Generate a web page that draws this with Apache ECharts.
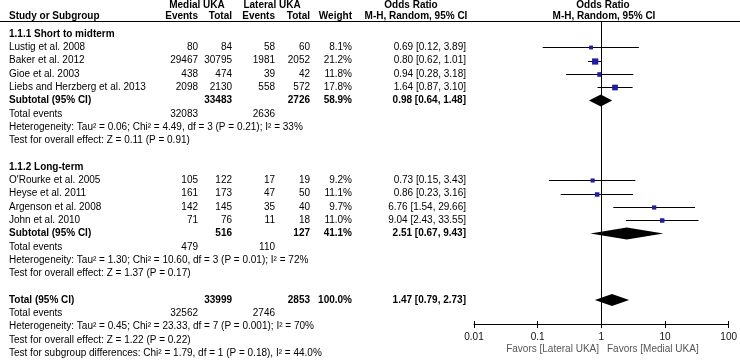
<!DOCTYPE html>
<html>
<head>
<meta charset="utf-8">
<script src="https://cdn.jsdelivr.net/npm/echarts@6/dist/echarts.min.js"></script>
<style>
  html, body { margin: 0; padding: 0; background: #fff; }
  #forest { width: 740px; height: 362px; }
</style>
</head>
<body>
<div id="forest"></div>
<script>
// ---- data ----
var studies = ['Lustig et al. 2008', 'Baker et al. 2012', 'Gioe et al. 2003', 'Liebs and Herzberg et al. 2013',
               "O'Rourke et al. 2005", 'Heyse et al. 2011', 'Argenson et al. 2008', 'John et al. 2010'];
var studyGroup = [0, 0, 0, 0, 1, 1, 1, 1];
var medialEvents = [80, 29467, 438, 2098, 105, 161, 142, 71];
var medialTotal = [84, 30795, 474, 2130, 122, 173, 145, 76];
var lateralEvents = [58, 1981, 39, 558, 17, 47, 35, 11];
var lateralTotal = [60, 2052, 42, 572, 19, 50, 40, 18];
var weights = [8.1, 21.2, 11.8, 17.8, 9.2, 11.1, 9.7, 11.0];
var oddsRatio = [0.69, 0.80, 0.94, 1.64, 0.73, 0.86, 6.76, 9.04];
var ciLow = [0.12, 0.62, 0.28, 0.87, 0.15, 0.23, 1.54, 2.43];
var ciHigh = [3.89, 1.01, 3.18, 3.10, 3.43, 3.16, 29.66, 33.55];

var groupNames = ['1.1.1 Short to midterm', '1.1.2 Long-term'];
var subMedialTotal = [33483, 516];
var subLateralTotal = [2726, 127];
var subWeight = [58.9, 41.1];
var subOR = [0.98, 2.51];
var subLow = [0.64, 0.67];
var subHigh = [1.48, 9.43];
var subMedialEvents = [32083, 479];
var subLateralEvents = [2636, 110];
var subHeterogeneity = ['Heterogeneity: Tau\u00b2 = 0.06; Chi\u00b2 = 4.49, df = 3 (P = 0.21); I\u00b2 = 33%',
                        'Heterogeneity: Tau\u00b2 = 1.30; Chi\u00b2 = 10.60, df = 3 (P = 0.01); I\u00b2 = 72%'];
var subEffect = ['Test for overall effect: Z = 0.11 (P = 0.91)',
                 'Test for overall effect: Z = 1.37 (P = 0.17)'];

var totalMedial = 33999, totalLateral = 2853, totalWeight = 100.0;
var totalOR = 1.47, totalLow = 0.79, totalHigh = 2.73;
var totalMedialEvents = 32562, totalLateralEvents = 2746;
var totalHeterogeneity = 'Heterogeneity: Tau\u00b2 = 0.45; Chi\u00b2 = 23.33, df = 7 (P = 0.001); I\u00b2 = 70%';
var totalEffect = 'Test for overall effect: Z = 1.22 (P = 0.22)';
var subgroupTest = 'Test for subgroup differences: Chi\u00b2 = 1.79, df = 1 (P = 0.18), I\u00b2 = 44.0%';

var axisTicks = [0.01, 0.1, 1, 10, 100];

// ---- layout ----
var FAMILY = '"Liberation Sans", Arial, sans-serif';
var FONT = '10px ' + FAMILY;
var BOLD = 'bold 10px ' + FAMILY;
var COL = { label: 9, medEv: 198, medTot: 232, latEv: 275, latTot: 310, weight: 352, or: 466 };

function orText(v, lo, hi) {
  return v.toFixed(2) + ' [' + lo.toFixed(2) + ', ' + hi.toFixed(2) + ']';
}

var textItems = [];
var boxes = [];
var diamonds = [];
function addText(x, row, text, align, bold) {
  textItems.push({ x: x, row: row, text: String(text), align: align, bold: !!bold });
}

var r = 0;
groupNames.forEach(function (name, g) {
  addText(COL.label, r, name, 'left', true); r++;
  studies.forEach(function (s, i) {
    if (studyGroup[i] !== g) return;
    addText(COL.label, r, s, 'left');
    addText(COL.medEv, r, medialEvents[i], 'right');
    addText(COL.medTot, r, medialTotal[i], 'right');
    addText(COL.latEv, r, lateralEvents[i], 'right');
    addText(COL.latTot, r, lateralTotal[i], 'right');
    addText(COL.weight, r, weights[i].toFixed(1) + '%', 'right');
    addText(COL.or, r, orText(oddsRatio[i], ciLow[i], ciHigh[i]), 'right');
    boxes.push([oddsRatio[i], ciLow[i], ciHigh[i], r, weights[i]]);
    r++;
  });
  addText(COL.label, r, 'Subtotal (95% CI)', 'left', true);
  addText(COL.medTot, r, subMedialTotal[g], 'right', true);
  addText(COL.latTot, r, subLateralTotal[g], 'right', true);
  addText(COL.weight, r, subWeight[g].toFixed(1) + '%', 'right', true);
  addText(COL.or, r, orText(subOR[g], subLow[g], subHigh[g]), 'right', true);
  diamonds.push([subOR[g], subLow[g], subHigh[g], r]);
  r++;
  addText(COL.label, r, 'Total events', 'left');
  addText(COL.medEv, r, subMedialEvents[g], 'right');
  addText(COL.latEv, r, subLateralEvents[g], 'right');
  r++;
  addText(COL.label, r, subHeterogeneity[g], 'left'); r++;
  addText(COL.label, r, subEffect[g], 'left'); r++;
  r++;
});
addText(COL.label, r, 'Total (95% CI)', 'left', true);
addText(COL.medTot, r, totalMedial, 'right', true);
addText(COL.latTot, r, totalLateral, 'right', true);
addText(COL.weight, r, totalWeight.toFixed(1) + '%', 'right', true);
addText(COL.or, r, orText(totalOR, totalLow, totalHigh), 'right', true);
diamonds.push([totalOR, totalLow, totalHigh, r]);
r++;
addText(COL.label, r, 'Total events', 'left');
addText(COL.medEv, r, totalMedialEvents, 'right');
addText(COL.latEv, r, totalLateralEvents, 'right');
r++;
addText(COL.label, r, totalHeterogeneity, 'left'); r++;
addText(COL.label, r, totalEffect, 'left'); r++;
addText(COL.label, r, subgroupTest, 'left'); r++;

var yRange = { type: 'value', inverse: true, min: -0.98, max: 21.8, show: false };

function headerText(x, y, text, align) {
  return { type: 'text', x: x, y: y, silent: true,
    style: { text: text, font: BOLD, fill: '#000', align: align, verticalAlign: 'middle' } };
}

var chart = echarts.init(document.getElementById('forest'), null, { renderer: 'canvas' });
var option = {
  animation: false,
  backgroundColor: '#fff',
  grid: [
    { left: 474, right: 10, top: 21, height: 303 },
    { left: 0, width: 740, top: 21, height: 303 }
  ],
  xAxis: [
    {
      type: 'log', logBase: 10, min: 0.01, max: 100, gridIndex: 0, position: 'bottom',
      axisLine: { onZero: false, lineStyle: { color: '#000', width: 1 } },
      axisTick: { length: 4, lineStyle: { color: '#000' } },
      splitLine: { show: false },
      axisLabel: {
        margin: 8, color: '#111', fontSize: 10, fontFamily: FAMILY,
        formatter: function (v) {
          var t = axisTicks.filter(function (a) { return Math.abs(Math.log10(a) - Math.log10(v)) < 1e-6; });
          return t.length ? String(t[0]) : '';
        }
      }
    },
    {
      type: 'log', logBase: 10, min: 0.01, max: 100, gridIndex: 0, position: 'bottom',
      axisLine: { show: false, onZero: false }, axisLabel: { show: false }, splitLine: { show: false },
      axisTick: { inside: true, length: 3, lineStyle: { color: '#000' } }
    },
    { type: 'value', min: 0, max: 740, gridIndex: 1, show: false }
  ],
  yAxis: [
    Object.assign({ gridIndex: 0 }, yRange),
    Object.assign({ gridIndex: 1 }, yRange)
  ],
  series: [
    {
      type: 'custom', name: 'studies', xAxisIndex: 0, yAxisIndex: 0, clip: false,
      data: boxes,
      renderItem: function (params, api) {
        var row = api.value(3);
        var a = api.coord([api.value(1), row]);
        var b = api.coord([api.value(2), row]);
        var c = api.coord([api.value(0), row]);
        var s = 1.35 * Math.sqrt(api.value(4));
        var y = Math.round(a[1]) + 0.5;
        return {
          type: 'group',
          children: [
            { type: 'line', shape: { x1: a[0], y1: y, x2: b[0], y2: y }, style: { stroke: '#000', lineWidth: 1 } },
            { type: 'rect', shape: { x: c[0] - s / 2, y: y - s / 2, width: s, height: s }, style: { fill: '#1c1ca8' } }
          ]
        };
      },
      markLine: {
        silent: true, symbol: 'none', label: { show: false },
        lineStyle: { color: '#000', width: 1, type: 'solid' },
        data: [{ xAxis: 1 }]
      }
    },
    {
      type: 'custom', name: 'pooled', xAxisIndex: 0, yAxisIndex: 0, clip: false,
      data: diamonds,
      renderItem: function (params, api) {
        var row = api.value(3);
        var lo = api.coord([api.value(1), row]);
        var hi = api.coord([api.value(2), row]);
        var mid = api.coord([api.value(0), row]);
        var h = 6;
        return {
          type: 'polygon',
          shape: { points: [[lo[0], lo[1]], [mid[0], mid[1] - h], [hi[0], hi[1]], [mid[0], mid[1] + h]] },
          style: { fill: '#000' }
        };
      }
    },
    {
      type: 'custom', name: 'table', xAxisIndex: 2, yAxisIndex: 1, clip: false, silent: true,
      data: textItems.map(function (t) { return [t.x, t.row]; }),
      renderItem: function (params, api) {
        var t = textItems[params.dataIndex];
        var p = api.coord([t.x, t.row]);
        return {
          type: 'text', x: p[0], y: p[1],
          style: { text: t.text, font: t.bold ? BOLD : FONT, fill: '#000', align: t.align, verticalAlign: 'middle' }
        };
      }
    }
  ],
  graphic: [
    headerText(197, 5, 'Medial UKA', 'center'),
    headerText(272, 5, 'Lateral UKA', 'center'),
    headerText(411, 5, 'Odds Ratio', 'center'),
    headerText(603, 5, 'Odds Ratio', 'center'),
    headerText(COL.label, 16, 'Study or Subgroup', 'left'),
    headerText(COL.medEv, 16, 'Events', 'right'),
    headerText(COL.medTot, 16, 'Total', 'right'),
    headerText(COL.latEv, 16, 'Events', 'right'),
    headerText(COL.latTot, 16, 'Total', 'right'),
    headerText(COL.weight, 16, 'Weight', 'right'),
    headerText(416, 16, 'M-H, Random, 95% CI', 'center'),
    headerText(604, 16, 'M-H, Random, 95% CI', 'center'),
    { type: 'line', silent: true, shape: { x1: 0, y1: 21.5, x2: 740, y2: 21.5 }, style: { stroke: '#000', lineWidth: 1 } },
    { type: 'text', x: 599, y: 349, silent: true,
      style: { text: 'Favors [Lateral UKA]', font: FONT, fill: '#555', align: 'right', verticalAlign: 'middle' } },
    { type: 'text', x: 607, y: 349, silent: true,
      style: { text: 'Favors [Medial UKA]', font: FONT, fill: '#555', align: 'left', verticalAlign: 'middle' } }
  ]
};
chart.setOption(option);
</script>
</body>
</html>
